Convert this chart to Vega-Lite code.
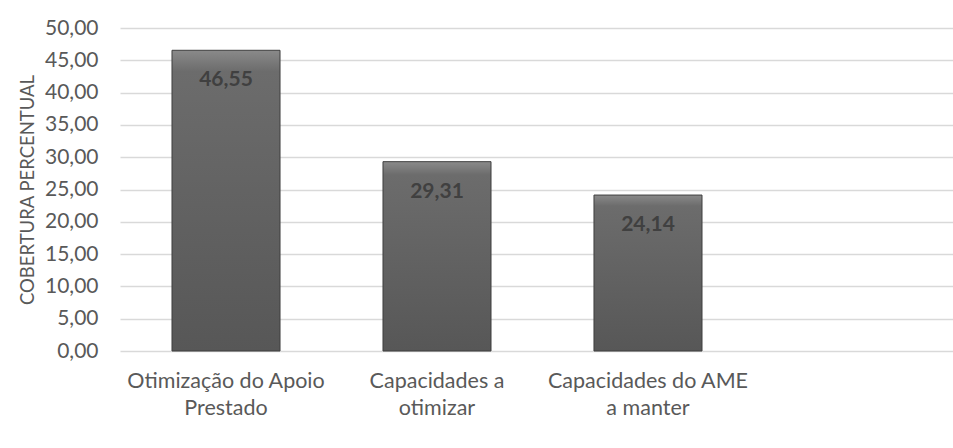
{
  "$schema": "https://vega.github.io/schema/vega-lite/v6.json",
  "autosize": {"type": "none"},
  "padding": {"left": 120, "top": 28, "right": 0, "bottom": 97},
  "width": 833,
  "height": 323,
  "background": "white",
  "data": {"values": [
    {"categoria": "Otimização do Apoio Prestado", "valor": 46.55},
    {"categoria": "Capacidades a otimizar", "valor": 29.31},
    {"categoria": "Capacidades do AME a manter", "valor": 24.14}
  ]},
  "encoding": {
    "x": {
      "field": "categoria", "type": "nominal", "sort": null,
      "scale": {"paddingInner": 0.488, "paddingOuter": 0.718, "align": 0.1716},
      "axis": {
        "title": null, "labelAngle": 0, "ticks": false, "domain": false,
        "labelFont": "Lato", "labelFontSize": 21.5, "labelColor": "#595959",
        "labelPadding": 19, "labelLineHeight": 27, "labelLimit": 300,
        "labelExpr": "datum.value == 'Otimização do Apoio Prestado' ? ['Otimização do Apoio', 'Prestado'] : datum.value == 'Capacidades a otimizar' ? ['Capacidades a', 'otimizar'] : ['Capacidades do AME', 'a manter']"
      }
    },
    "y": {
      "field": "valor", "type": "quantitative",
      "scale": {"domain": [0, 50], "nice": false},
      "axis": {
        "title": "COBERTURA PERCENTUAL", "values": [0, 5, 10, 15, 20, 25, 30, 35, 40, 45, 50],
        "format": ".2f", "ticks": false, "domain": false,
        "grid": true, "gridColor": "#d9d9d9", "gridWidth": 1.5,
        "labelFont": "Lato", "labelFontSize": 21, "labelColor": "#595959", "labelPadding": 22,
        "titleFont": "Lato", "titleFontSize": 18.5, "titleFontWeight": "normal", "titleColor": "#595959",
        "titleX": -87, "titleBaseline": "alphabetic"
      }
    }
  },
  "layer": [
    {
      "mark": {
        "type": "bar",
        "stroke": "#3f3f3f", "strokeWidth": 1,
        "color": {"gradient": "linear", "x1": 0, "y1": 0, "x2": 0, "y2": 1,
          "stops": [{"offset": 0, "color": "#8a8a8a"}, {"offset": 0.07, "color": "#6c6c6c"}, {"offset": 1, "color": "#575757"}]}
      }
    },
    {
      "mark": {"type": "text", "baseline": "top", "dy": 19, "font": "Lato", "fontSize": 21, "fontWeight": "bold", "color": "#404040"},
      "encoding": {"text": {"field": "valor", "type": "quantitative", "format": ".2f"}}
    }
  ],
  "config": {
    "view": {"stroke": null},
    "locale": {"number": {"decimal": ",", "thousands": ".", "grouping": [3], "currency": ["", " €"]}}
  }
}
